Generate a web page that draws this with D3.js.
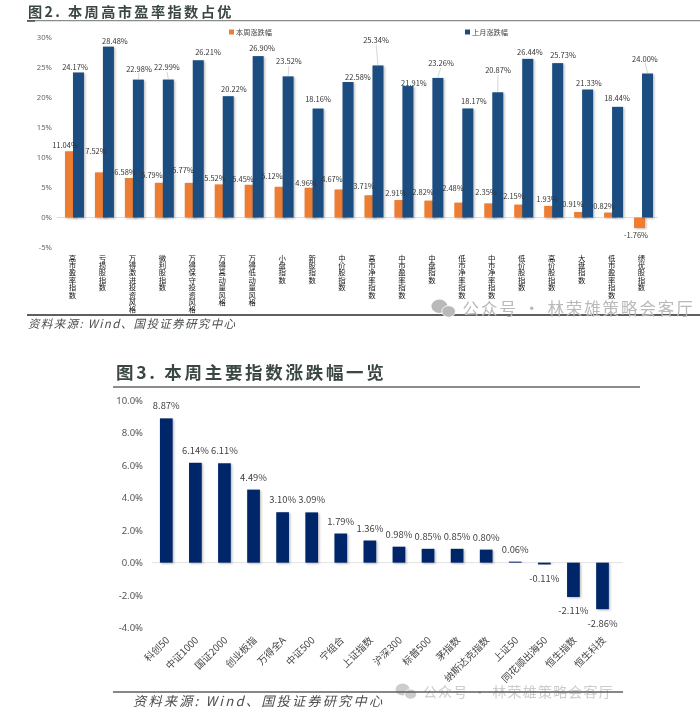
<!DOCTYPE html>
<html><head><meta charset="utf-8">
<script src="https://cdn.jsdelivr.net/npm/d3@7"></script>
<style>
html,body{margin:0;padding:0;background:#fff;}
svg{display:block;filter:blur(0.45px);}
text{font-family:"Noto Sans CJK SC","Noto Sans",sans-serif;}
.vert{writing-mode:vertical-rl;text-orientation:upright;}
</style></head><body>
<svg id="c" width="700" height="718"></svg>
<script>
// ---- data: figure 2
const styleCategories = ["高市盈率指数","亏损股指数","万得激进投资风格","微利股指数","万得保守投资风格","万得高动量风格","万得低动量风格","小盘指数","新股指数","中价股指数","高市净率指数","中市盈率指数","中盘指数","低市净率指数","中市净率指数","低价股指数","高价股指数","大盘指数","低市盈率指数","绩优股指数"];
const weekChange = [11.04,7.52,6.58,5.79,5.77,5.52,5.45,5.12,4.96,4.67,3.71,2.91,2.82,2.48,2.35,2.15,1.93,0.91,0.82,-1.76];
const monthChange = [24.17,28.48,22.98,22.99,26.21,20.22,26.90,23.52,18.16,22.58,25.34,21.91,23.26,18.17,20.87,26.44,25.73,21.33,18.44,24.00];
const styleTicks = [30,25,20,15,10,5,0,-5];
const seriesNames = ["本周涨跌幅","上月涨跌幅"];
// ---- data: figure 3
const indexCategories = ["科创50","中证1000","国证2000","创业板指","万得全A","中证500","宁组合","上证指数","沪深300","标普500","茅指数","纳斯达克指数","上证50","同花顺出海50","恒生指数","恒生科技"];
const indexChange = [8.87,6.14,6.11,4.49,3.10,3.09,1.79,1.36,0.98,0.85,0.85,0.80,0.06,-0.11,-2.11,-2.86];
const indexTicks = [10,8,6,4,2,0,-2,-4];
// ---- manual data-label nudges (as placed in the source chart)
const weekLabelDx = [-5.5,-4.5,-5.4,-8.4,-7.3,-5.3,-7.2,-8.2,-4.1,-8.1,-6,-4,-6.9,-6.9,-3.8,-5.8,-2.7,-6.7,-5.6,-3.6];
const weekLabelDy = [-6.3,-21.4,-7,-7.8,-12.9,-6.4,-6.8,-10.8,-5.7,-10.5,-10.2,-8,-8.6,-15.6,-12.4,-9.6,-7.9,-9,-6.6,6];
const monthLabelDx = [-3.5,6.5,.6,-1.4,9.7,5.7,3.8,.8,-.1,9.9,-2,6,3.1,6.1,.2,2.2,5.3,1.3,-.6,-2.6];
const monthLabelDy = [-5.5,-6.6,-11.6,-12.6,-9.2,-7.2,-9.1,-15.4,-10.5,-6,-25.5,-4,-15,-7.5,-22.3,-6.9,-9.1,-7.5,-8.9,-15.5];

const svg = d3.select("#c");
const pct = d => d.toFixed(2) + "%";
const ORANGE="#ed7d31", BLUE="#1a4e80", NAVY="#06256b";
const defs = svg.append("defs");
const sh = defs.append("filter").attr("id","sh").attr("x","-30%").attr("y","-10%").attr("width","170%").attr("height","125%");
sh.append("feDropShadow").attr("dx",1.2).attr("dy",1).attr("stdDeviation",0.9).attr("flood-color","#000").attr("flood-opacity",.28);

function rule(x1,x2,y,color,w){svg.append("line").attr("x1",x1).attr("x2",x2).attr("y1",y).attr("y2",y).attr("stroke",color).attr("stroke-width",w);}
function title(t,x,y,fs,ls){svg.append("text").attr("x",x).attr("y",y).attr("font-size",fs).attr("font-weight",700).attr("letter-spacing",ls).attr("fill","#3b4743").text(t);}
function source(t,x,y,fs,ls){svg.append("text").attr("x",x).attr("y",y).attr("font-size",fs).attr("font-style","italic").attr("letter-spacing",ls).attr("fill","#4a4f4c").text(t);}
function watermark(x,y,fs,ls,color,r){
  const g=svg.append("g").attr("fill",color);
  g.append("ellipse").attr("cx",x+r*.8).attr("cy",y-r*.35).attr("rx",r).attr("ry",r*.85);
  g.append("ellipse").attr("cx",x+r*1.95).attr("cy",y+r*.3).attr("rx",r*.85).attr("ry",r*.72).attr("stroke","#fff").attr("stroke-width",.8);
  svg.append("text").attr("x",x+r*3.7).attr("y",y+fs*.36).attr("font-size",fs).attr("letter-spacing",ls).attr("fill",color).text("公众号 · 林荣雄策略会客厅");
}

// ================= Figure 2 =================
title("图2. 本周高市盈率指数占优",28,16.6,14.2,2.4);
rule(27,700,20.7,"#8b8b8b",1.2);
rule(27,35,21,"#444",1.4);

const y1 = d3.scaleLinear().domain([-5,30]).range([247.5,37.5]);
const x1 = d3.scaleBand().domain(styleCategories).range([59.5,658.5]);
const barW1 = 11, c1 = d => x1(d)+x1.step()/2;

const ax1 = svg.append("g").attr("transform","translate(52,0)")
  .call(d3.axisLeft(y1).tickValues(styleTicks).tickSize(0).tickPadding(0).tickFormat(d=>d+"%"));
ax1.select(".domain").remove();
ax1.selectAll("text").attr("font-size",7.7).attr("fill","#666").style("font-family",'"Noto Sans",sans-serif');

svg.append("line").attr("x1",57).attr("x2",658).attr("y1",y1(0)).attr("y2",y1(0)).attr("stroke","#dedede");

svg.append("g").selectAll("rect").data(weekChange).join("rect")
  .attr("x",(d,i)=>c1(styleCategories[i])-4-barW1/2).attr("width",barW1)
  .attr("y",d=>d>=0?y1(d):y1(0)).attr("height",d=>Math.abs(y1(d)-y1(0)))
  .attr("fill",ORANGE).attr("filter","url(#sh)");
svg.append("g").selectAll("rect").data(monthChange).join("rect")
  .attr("x",(d,i)=>c1(styleCategories[i])+4-barW1/2).attr("width",barW1)
  .attr("y",d=>y1(d)).attr("height",d=>y1(0)-y1(d))
  .attr("fill",BLUE).attr("filter","url(#sh)");

// leader lines for labels pulled far from their bars
svg.append("g").selectAll("line").data(d3.range(monthChange.length).filter(i=>monthLabelDy[i]<-11)).join("line")
  .attr("x1",i=>c1(styleCategories[i])+4+monthLabelDx[i]*.9)
  .attr("y1",i=>y1(monthChange[i])+monthLabelDy[i]+5)
  .attr("x2",i=>c1(styleCategories[i])+4)
  .attr("y2",i=>y1(monthChange[i])-.5)
  .attr("stroke","#c4c4c4").attr("stroke-width",.7);

const lab1 = {"font-size":7.5,"fill":"#333","text-anchor":"middle","dominant-baseline":"central"};
function applyAttrs(sel,o){Object.entries(o).forEach(([k,v])=>sel.attr(k,v));return sel;}
applyAttrs(svg.append("g").selectAll("text").data(weekChange).join("text")
  .attr("x",(d,i)=>c1(styleCategories[i])-4+weekLabelDx[i])
  .attr("y",(d,i)=>y1(d)+weekLabelDy[i])
  .text(pct),lab1);
applyAttrs(svg.append("g").selectAll("text").data(monthChange).join("text")
  .attr("x",(d,i)=>c1(styleCategories[i])+4+monthLabelDx[i])
  .attr("y",(d,i)=>y1(d)+monthLabelDy[i])
  .text(pct),lab1);

// vertical category labels
svg.append("g").selectAll("text").data(styleCategories).join("text")
  .attr("class","vert")
  .attr("transform",d=>`translate(${c1(d)-2},254)`)
  .attr("font-size",7.4).attr("fill","#111")
  .text(d=>d);

// legend
const legX = [229,465];
seriesNames.forEach((n,i)=>{
  svg.append("rect").attr("x",legX[i]).attr("y",29.5).attr("width",5).attr("height",5).attr("fill",[ORANGE,BLUE][i]);
  svg.append("text").attr("x",legX[i]+7).attr("y",32).attr("dominant-baseline","central").attr("font-size",7.2).attr("fill","#444").text(n);
});

rule(27,700,315,"#5f5f5f",1.8);
source("资料来源: Wind、国投证券研究中心",28,327.5,11.5,1.35);
watermark(433,309,16.5,1.9,"#b9b9b9",8);

// ================= Figure 3 =================
title("图3. 本周主要指数涨跌幅一览",116,379,17.5,2.7);
rule(113,640,387,"#666",1.3);

const y2 = d3.scaleLinear().domain([-4,10]).range([627.7,400]);
const x2 = d3.scaleBand().domain(indexCategories).range([151.8,617]).paddingInner(.563).paddingOuter(.28);
const c2 = d => x2(d)+x2.bandwidth()/2;

const ax2 = svg.append("g").attr("transform","translate(143,0)")
  .call(d3.axisLeft(y2).tickValues(indexTicks).tickSize(0).tickPadding(0).tickFormat(d=>d.toFixed(1)+"%"));
ax2.select(".domain").remove();
ax2.selectAll("text").attr("font-size",9.5).attr("fill","#555").style("font-family",'"Noto Sans",sans-serif');

svg.append("line").attr("x1",152).attr("x2",623).attr("y1",y2(0)).attr("y2",y2(0)).attr("stroke","#e2e2e2");

svg.append("g").selectAll("rect").data(indexChange).join("rect")
  .attr("x",(d,i)=>x2(indexCategories[i])).attr("width",x2.bandwidth())
  .attr("y",d=>d>=0?y2(d):y2(0)).attr("height",d=>Math.abs(y2(d)-y2(0)))
  .attr("fill",NAVY).attr("filter","url(#sh)");

svg.append("g").selectAll("text").data(indexChange).join("text")
  .attr("x",(d,i)=>c2(indexCategories[i]))
  .attr("y",d=>y2(d)+(d>=0?-13:13.5))
  .attr("text-anchor","middle").attr("dominant-baseline","central")
  .attr("font-size",9.4).attr("fill","#3f3f3f").text(pct);

svg.append("g").selectAll("text").data(indexCategories).join("text")
  .attr("transform",d=>`translate(${c2(d)+1},638) rotate(-45)`)
  .attr("text-anchor","end").attr("dominant-baseline","central")
  .attr("font-size",9.8).attr("fill","#444").text(d=>d);

source("资料来源: Wind、国投证券研究中心",133,706,13.2,2.2);
watermark(397,692,14,1.2,"#cccccc",7);
rule(113,623,692,"#5f5f5f",1.6);
</script>
</body></html>
